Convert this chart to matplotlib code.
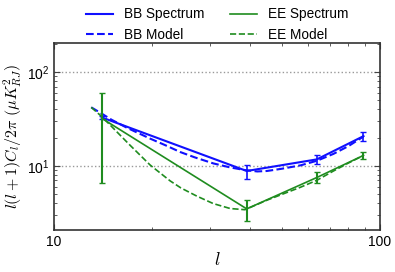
import matplotlib
matplotlib.use("Agg")
import matplotlib.pyplot as plt
from matplotlib.ticker import ScalarFormatter, NullFormatter

plt.rcParams['mathtext.fontset'] = 'cm'
plt.rcParams['font.family'] = ['Liberation Sans', 'DejaVu Sans']

# puntos del espectro medido
ell = [14, 39, 64, 89]
bb = [32.8, 8.8, 11.7, 20.7]
bb_lo = [1.5, 1.6, 1.3, 2.2]
bb_hi = [1.5, 1.5, 1.2, 2.4]
ee = [32.1, 3.47, 7.5, 12.9]
ee_lo = [25.5, 0.87, 1.0, 1.2]
ee_hi = [28.0, 0.8, 1.1, 1.2]

# modelos
ell_bb_mod = [13, 14, 15, 16.7, 19.7, 22, 24.4, 27, 30.8, 34.7, 38.5, 42, 45, 50, 57, 64, 72, 80, 89]
bb_mod = [42, 36, 31, 25.5, 19.5, 16.5, 14.0, 12.3, 10.6, 9.6, 9.0, 8.7, 8.8, 9.3, 10.1, 11.3, 13.4, 16.2, 20.5]
ell_ee_mod = [13, 14, 15, 17, 19.7, 22.7, 24.5, 27.4, 30.8, 34.7, 38.5, 45, 57, 64, 72, 80, 89]
ee_mod = [42, 33.5, 26.3, 16.9, 10.2, 6.9, 5.8, 4.75, 3.95, 3.5, 3.4, 4.3, 5.9, 7.0, 8.8, 10.7, 12.9]

blue = '#1010ff'
green = '#1f8c1f'

fig = plt.figure(figsize=(3.95, 2.72), dpi=100)
ax = fig.add_axes([0.137, 0.154, 0.825, 0.688])

l1, = ax.plot(ell, bb, '-', color=blue, lw=1.5, label='BB Spectrum')
ax.errorbar(ell, bb, yerr=[bb_lo, bb_hi], fmt='none', ecolor=blue, capsize=2, elinewidth=1.2)
l2, = ax.plot(ell_bb_mod, bb_mod, '--', color=blue, lw=1.5, label='BB Model')
l3, = ax.plot(ell, ee, '-', color=green, lw=1.2, label='EE Spectrum')
ax.errorbar(ell, ee, yerr=[ee_lo, ee_hi], fmt='none', ecolor=green, capsize=2, elinewidth=1.5)
l4, = ax.plot(ell_ee_mod, ee_mod, '--', color=green, lw=1.2, label='EE Model')

ax.set_xscale('log')
ax.set_yscale('log')
ax.set_xlim(10, 100)
ax.set_ylim(2.06, 204)
ax.xaxis.set_major_formatter(ScalarFormatter())
ax.xaxis.set_minor_formatter(NullFormatter())

ax.grid(True, which='major', axis='y', ls=':', color='#999999', lw=1)
ax.tick_params(which='both', direction='in', top=True, right=True, labelsize=10, color='#444444')
ax.tick_params(which='major', length=4)
ax.tick_params(which='minor', length=2)
for s in ax.spines.values():
    s.set_color('#333333')
    s.set_linewidth(1.2)

ax.set_xlabel(r'$l$', fontsize=13, labelpad=2)
ax.set_ylabel(r'$l(l+1)C_l/2\pi\ (\mu K^2_{RJ})$', fontsize=11.5, labelpad=2)

ax.legend([l1, l2, l3, l4], ['BB Spectrum', 'BB Model', 'EE Spectrum', 'EE Model'],
          loc='lower center', bbox_to_anchor=(0.5, 1.0), ncol=2, frameon=False, fontsize=9.8,
          handlelength=2.0, handletextpad=0.8, columnspacing=1.9, borderaxespad=0.0,
          borderpad=0.1, labelspacing=0.45)

fig.savefig('out.png', dpi=100)
